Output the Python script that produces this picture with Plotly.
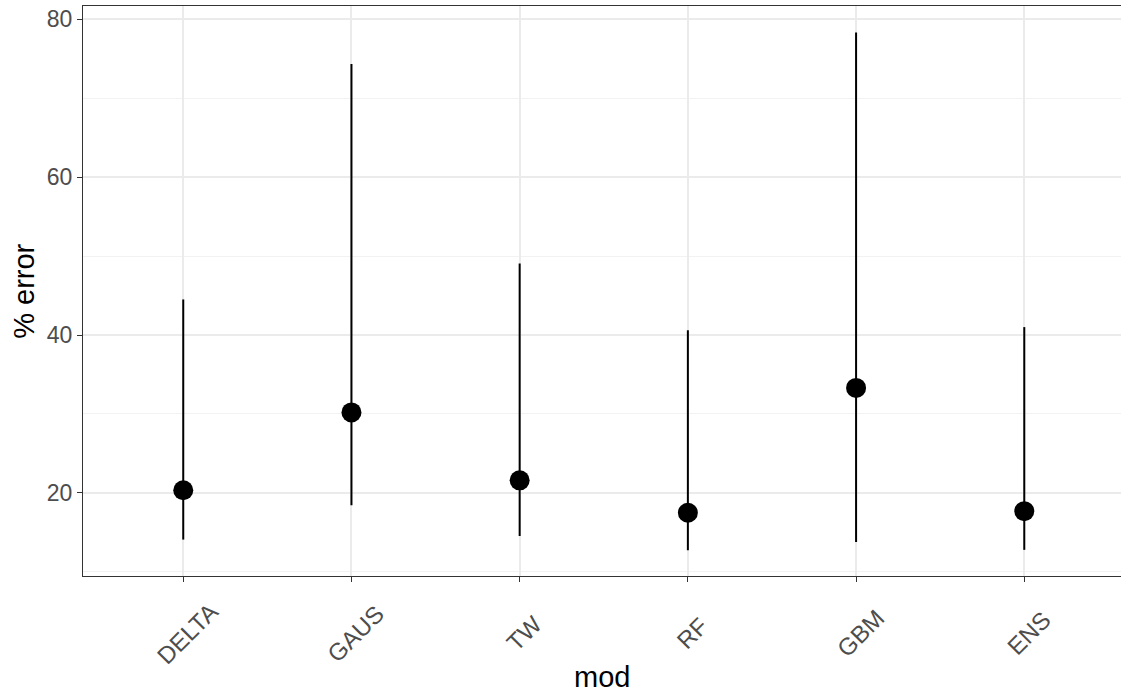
import plotly.graph_objects as go

models = ["DELTA", "GAUS", "TW", "RF", "GBM", "ENS"]
point_err = [20.35, 30.2, 21.6, 17.5, 33.3, 17.7]
low_err = [14.1, 18.45, 14.55, 12.75, 13.8, 12.8]
high_err = [44.5, 74.3, 49.05, 40.6, 78.3, 41.0]

y_ticks = [20, 40, 60, 80]
y_minor = [10, 30, 50, 70]

err_plus = [h - p for h, p in zip(high_err, point_err)]
err_minus = [p - l for p, l in zip(point_err, low_err)]

fig = go.Figure()
fig.add_trace(go.Scatter(
    x=models, y=point_err, mode="markers",
    marker=dict(color="black", size=20),
    error_y=dict(type="data", symmetric=False, array=err_plus, arrayminus=err_minus,
                 color="black", thickness=2, width=0),
    showlegend=False,
))

font_family = "Liberation Sans, Arial, sans-serif"

# x tick labels as rotated text centred under each tick (ggplot-style)
label_annots = [
    dict(text=m, x=m, xref="x", yref="paper", y=-0.1, xanchor="center", yanchor="middle",
         xshift=4, textangle=-45, showarrow=False, font=dict(size=24, color="#4D4D4D"))
    for m in models
]

fig.update_layout(
    width=1121, height=695,
    margin=dict(l=83, r=0, t=6, b=119, autoexpand=False),
    paper_bgcolor="white", plot_bgcolor="white",
    font=dict(family=font_family),
    xaxis=dict(
        type="category", categoryorder="array", categoryarray=models,
        range=[-0.596, 5.575], automargin=False,
        showgrid=True, gridcolor="#EBEBEB", gridwidth=1.5,
        showline=True, linecolor="#333333", linewidth=1.3, mirror=True,
        ticks="outside", ticklen=5, tickcolor="#333333", tickwidth=1.3,
        showticklabels=False,
        zeroline=False,
    ),
    yaxis=dict(
        range=[9.49, 81.65], automargin=False,
        tickvals=y_ticks, ticktext=[str(v) for v in y_ticks],
        showgrid=True, gridcolor="#EBEBEB", gridwidth=1.5,
        minor=dict(tickvals=y_minor, showgrid=True, gridcolor="#F2F2F2", gridwidth=0.8, ticks=""),
        showline=True, linecolor="#333333", linewidth=1.3,
        ticks="outside", ticklen=5, tickcolor="#333333", tickwidth=1.3,
        tickfont=dict(size=23, color="#4D4D4D"),
        zeroline=False,
    ),
    annotations=label_annots + [
        dict(text="mod", xref="paper", yref="paper", x=0.5, y=-0.178, xanchor="center", yanchor="middle",
             showarrow=False, font=dict(size=29, color="black")),
        dict(text="% error", xref="paper", yref="paper", x=-0.057, y=0.5, xanchor="center", yanchor="middle",
             textangle=-90, showarrow=False, font=dict(size=29, color="black")),
    ],
)

fig.write_html("out.html")
